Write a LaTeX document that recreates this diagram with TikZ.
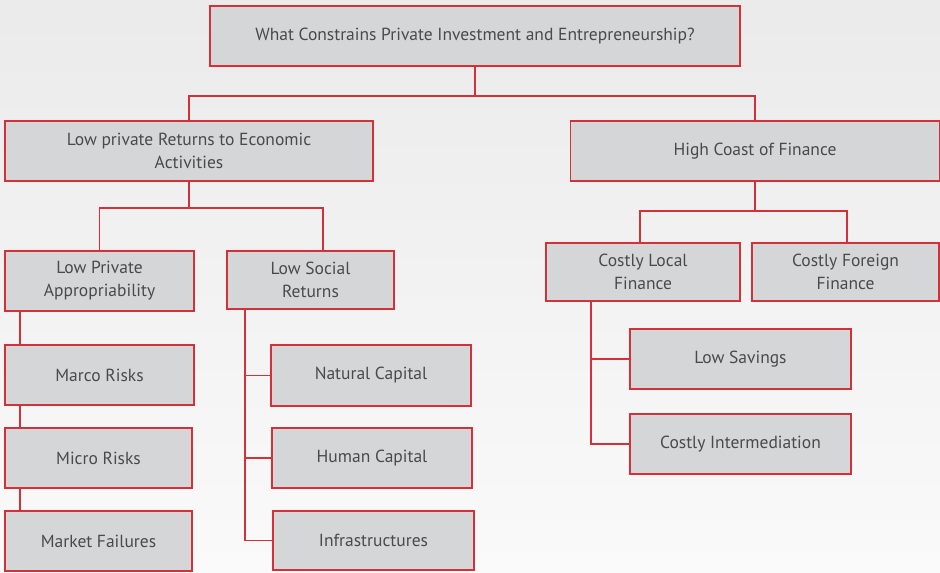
\documentclass[tikz,border=0pt]{standalone}
\usepackage{fontspec}
\setmainfont{PT Sans}
\definecolor{boxred}{HTML}{D2313A}
\definecolor{boxgray}{HTML}{D5D6D8}
\definecolor{textgray}{HTML}{4A4A4C}
\tikzset{
    box/.style = {draw=boxred, fill=boxgray, line width=1.3pt, rectangle, inner sep=0pt,
        align=center, text=textgray, font=\fontsize{17.5}{23}\selectfont},
    link/.style = {draw=boxred, line width=1.8pt}
}
\begin{document}
\begin{tikzpicture}[x=1pt, y=-1pt]
%background
    \shade[top color=black!8, bottom color=black!2] (0,0) rectangle (940,573);
    \useasboundingbox (0,0) rectangle (940,573);
%boxes
    \node[box, minimum width=530pt, minimum height=60pt] (top) at (475,36) {What Constrains Private Investment and Entrepreneurship?};
    \node[box, minimum width=368pt, minimum height=60pt] (lowret) at (189,151) {Low private Returns to Economic\\Activities};
    \node[box, minimum width=369pt, minimum height=60pt] (highcost) at (755,151) {High Coast of Finance};
    \node[box, minimum width=189pt, minimum height=60pt] (lowpriv) at (99.5,281) {Low Private\\Appropriability};
    \node[box, minimum width=167pt, minimum height=58pt] (lowsoc) at (310.5,280) {Low Social\\Returns};
    \node[box, minimum width=189pt, minimum height=60pt] (marco) at (99.5,375) {Marco Risks};
    \node[box, minimum width=187pt, minimum height=60pt] (micro) at (98.5,458) {Micro Risks};
    \node[box, minimum width=187pt, minimum height=60pt] (market) at (98.5,541) {Market Failures};
    \node[box, minimum width=200pt, minimum height=61pt] (natural) at (371,375.5) {Natural Capital};
    \node[box, minimum width=200pt, minimum height=60pt] (human) at (372,458) {Human Capital};
    \node[box, minimum width=201pt, minimum height=59pt] (infra) at (373.5,540.5) {Infrastructures};
    \node[box, minimum width=194pt, minimum height=58pt] (costlocal) at (643,272) {Costly Local\\Finance};
    \node[box, minimum width=187pt, minimum height=58pt] (costforeign) at (845.5,272) {Costly Foreign\\Finance};
    \node[box, minimum width=221pt, minimum height=60pt] (lowsav) at (740.5,359) {Low Savings};
    \node[box, minimum width=221pt, minimum height=60pt] (costint) at (740.5,444) {Costly Intermediation};
%links
    \draw[link] (top.south) -- ++(0,29) -| (lowret.north);
    \draw[link] (top.south) -- ++(0,29) -| (highcost.north);
    \draw[link] (lowret.south) -- ++(0,26) -| (lowpriv.north);
    \draw[link] (lowret.south) -- ++(0,26) -| ([xshift=12.5pt]lowsoc.north);
    \draw[link] (highcost.south) -- ++(0,29) -| ([xshift=-3pt]costlocal.north);
    \draw[link] (highcost.south) -- ++(0,29) -| ([xshift=1.5pt]costforeign.north);
    \draw[link] ([xshift=16pt]lowpriv.south west) -- ([xshift=16pt]marco.north west);
    \draw[link] ([xshift=16pt]marco.south west) -- ([xshift=16pt]micro.north west);
    \draw[link] ([xshift=16pt]micro.south west) -- ([xshift=16pt]market.north west);
    \draw[link] ([xshift=19pt]lowsoc.south west) |- (natural.west);
    \draw[link] ([xshift=19pt]lowsoc.south west) |- (human.west);
    \draw[link] ([xshift=19pt]lowsoc.south west) |- (infra.west);
    \draw[link] ([xshift=46pt]costlocal.south west) |- (lowsav.west);
    \draw[link] ([xshift=46pt]costlocal.south west) |- (costint.west);
\end{tikzpicture}
\end{document}
